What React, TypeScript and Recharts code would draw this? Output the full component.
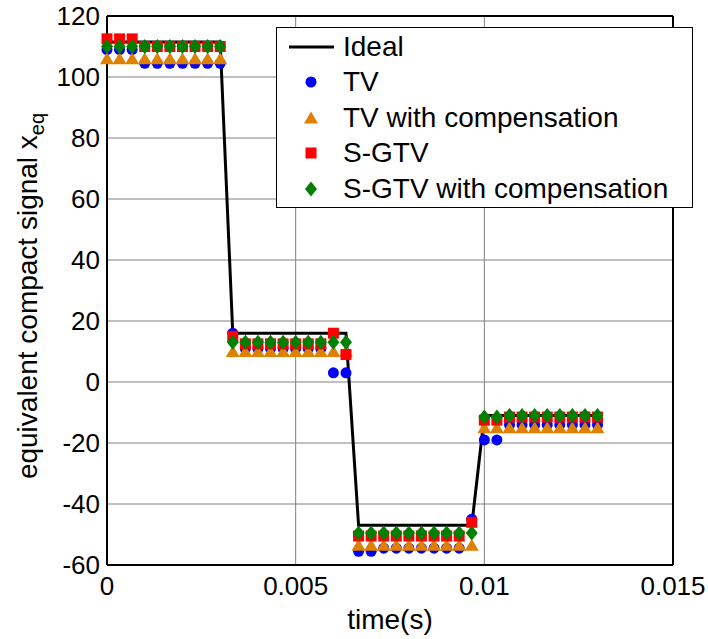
import React from 'react';
import { ComposedChart, Line, XAxis, YAxis, CartesianGrid, ReferenceLine, Label } from 'recharts';

// time samples (s)
const times = [
  0, 0.000333, 0.000667, 0.001, 0.001333, 0.001667, 0.002, 0.002333, 0.002667, 0.003,
  0.003333, 0.003667, 0.004, 0.004333, 0.004667, 0.005, 0.005333, 0.005667, 0.006, 0.006333,
  0.006667, 0.007, 0.007333, 0.007667, 0.008, 0.008333, 0.008667, 0.009, 0.009333, 0.009667,
  0.01, 0.010333, 0.010667, 0.011, 0.011333, 0.011667, 0.012, 0.012333, 0.012667, 0.013,
];

const ideal = [
  111.5, 111.5, 111.5, 111.5, 111.5, 111.5, 111.5, 111.5, 111.5, 111.5,
  16, 16, 16, 16, 16, 16, 16, 16, 16, 16,
  -47, -47, -47, -47, -47, -47, -47, -47, -47, -47,
  -11, -11, -11, -11, -11, -11, -11, -11, -11, -11,
];

const tv = [
  109, 109, 109, 104.5, 104.5, 104.5, 104.5, 104.5, 104.5, 104.5,
  16, 11, 11, 11, 11, 11, 11, 11, 3, 3,
  -55.5, -55.5, -54.5, -54.5, -54.5, -54.5, -54.5, -54.5, -54.5, -45,
  -19, -19, -14, -14, -14, -14, -14, -14, -14, -14,
];

const tvComp = [
  106, 106, 106, 106, 106, 106, 106, 106, 106, 106,
  10, 10, 10, 10, 10, 10, 10, 10, 10, 10,
  -53.5, -53.5, -53.5, -53.5, -53.5, -53.5, -53.5, -53.5, -53.5, -53.5,
  -15, -15, -15, -15, -15, -15, -15, -15, -15, -15,
];

const sgtv = [
  112.5, 112.5, 112.5, 110, 110, 110, 110, 110, 110, 110,
  15, 12.5, 12.5, 12.5, 12.5, 12.5, 12.5, 12.5, 16, 9,
  -50.5, -50.5, -50.5, -50.5, -50.5, -50.5, -50.5, -50.5, -50.5, -46,
  -12.5, -12.5, -11.5, -11.5, -11.5, -11.5, -11.5, -11.5, -11.5, -11.5,
];

const sgtvComp = [
  110, 110, 110, 110, 110, 110, 110, 110, 110, 110,
  13, 13, 13, 13, 13, 13, 13, 13, 13, 13,
  -49.5, -49.5, -49.5, -49.5, -49.5, -49.5, -49.5, -49.5, -49.5, -49.5,
  -11.5, -11.5, -11, -11, -11, -11, -11, -11, -11, -11,
];

const xTicks = [0, 0.005, 0.01, 0.015];
const yTicks = [-60, -40, -20, 0, 20, 40, 60, 80, 100, 120];

const FONT = 'Arial, "Liberation Sans", Helvetica, sans-serif';
const BLUE = '#0000FF';
const ORANGE = '#E08000';
const RED = '#FF0000';
const GREEN = '#008000';

const rows = times.map((t, i) => ({
  t,
  ideal: ideal[i],
  tv: tv[i],
  tvComp: tvComp[i],
  sgtv: sgtv[i],
  sgtvComp: sgtvComp[i],
}));

function marker(kind: string, cx: number, cy: number, key?: any) {
  if (kind === 'circle') return <circle key={key} cx={cx} cy={cy} r={5.5} fill={BLUE} />;
  if (kind === 'triangle')
    return <polygon key={key} points={`${cx},${cy - 6.5} ${cx - 7},${cy + 5.5} ${cx + 7},${cy + 5.5}`} fill={ORANGE} />;
  if (kind === 'square') return <rect key={key} x={cx - 5.5} y={cy - 5.5} width={11} height={11} fill={RED} />;
  return <polygon key={key} points={`${cx},${cy - 7.5} ${cx + 6},${cy} ${cx},${cy + 7.5} ${cx - 6},${cy}`} fill={GREEN} />;
}

const dot = (kind: string) => (p: any) => marker(kind, p.cx, p.cy, p.key ?? `${kind}-${p.index}`);

const legendItems = [
  { name: 'Ideal', kind: 'line' },
  { name: 'TV', kind: 'circle' },
  { name: 'TV with compensation', kind: 'triangle' },
  { name: 'S-GTV', kind: 'square' },
  { name: 'S-GTV with compensation', kind: 'diamond' },
];

function LegendBox() {
  return (
    <div
      style={{
        position: 'absolute', left: 276, top: 27, boxSizing: 'border-box',
        border: '1.5px solid #000', background: '#fff', width: 417, height: 181, paddingTop: 1, fontFamily: FONT,
      }}
    >
      {legendItems.map((it) => (
        <div key={it.name} style={{ display: 'flex', alignItems: 'center', height: 35.5 }}>
          <svg width={65} height={30} style={{ marginLeft: 1, flex: 'none' }}>
            {it.kind === 'line' ? (
              <line x1={11} x2={56} y1={15} y2={15} stroke="#000" strokeWidth={3} />
            ) : (
              marker(it.kind, 33, 15)
            )}
          </svg>
          <span style={{ fontSize: 28, color: '#000', whiteSpace: 'nowrap' }}>{it.name}</span>
        </div>
      ))}
    </div>
  );
}

function YTitle() {
  return (
    <text x={37} y={296} transform="rotate(-90, 37, 296)" textAnchor="middle" fontSize={28} fontFamily={FONT} fill="#000">
      equivalent compact signal x
      <tspan fontSize={20} dy={7}>eq</tspan>
    </text>
  );
}

function XTitle() {
  return (
    <text x={390} y={629} textAnchor="middle" fontSize={28} fontFamily={FONT} fill="#000">
      time(s)
    </text>
  );
}

export default function App() {
  const tickStyle = { fontSize: 26, fontFamily: FONT, fill: '#000' };
  return (
    <div style={{ position: 'absolute', left: 0, top: 0, width: 708, height: 639, background: '#fff' }}>
      <ComposedChart width={708} height={639} data={rows} margin={{ top: 16, right: 35, bottom: 0, left: 0 }}>
        <CartesianGrid stroke="#808080" strokeWidth={1} />
        <XAxis
          dataKey="t"
          type="number"
          domain={[0, 0.015]}
          ticks={xTicks}
          height={74}
          tickLine={false}
          tickSize={0}
          tickMargin={12}
          axisLine={{ stroke: '#000', strokeWidth: 2 }}
          tick={tickStyle}
          interval={0}
        >
          <Label content={XTitle} />
        </XAxis>
        <YAxis
          type="number"
          domain={[-60, 120]}
          ticks={yTicks}
          width={107}
          tickLine={false}
          tickSize={0}
          tickMargin={7}
          axisLine={{ stroke: '#000', strokeWidth: 2 }}
          tick={tickStyle}
          interval={0}
        >
          <Label content={YTitle} />
        </YAxis>
        <ReferenceLine x={0.015} stroke="#000" strokeWidth={2} />
        <ReferenceLine y={120} stroke="#000" strokeWidth={2} />
        <Line dataKey="ideal" stroke="#000" strokeWidth={3} dot={false} activeDot={false} isAnimationActive={false} />
        <Line dataKey="tv" stroke="none" dot={dot('circle')} activeDot={false} isAnimationActive={false} />
        <Line dataKey="tvComp" stroke="none" dot={dot('triangle')} activeDot={false} isAnimationActive={false} />
        <Line dataKey="sgtv" stroke="none" dot={dot('square')} activeDot={false} isAnimationActive={false} />
        <Line dataKey="sgtvComp" stroke="none" dot={dot('diamond')} activeDot={false} isAnimationActive={false} />
      </ComposedChart>
      <LegendBox />
    </div>
  );
}
